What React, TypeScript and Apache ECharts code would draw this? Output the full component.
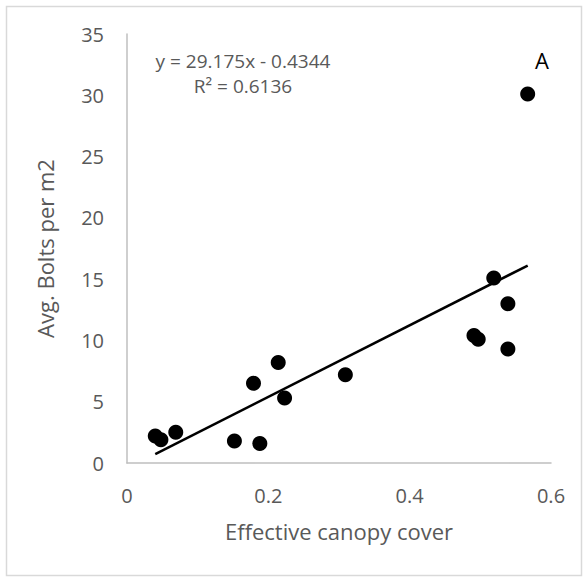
import React, { useEffect, useRef } from "react";
import * as echarts from "echarts";

const canopyCover = [0.040, 0.048, 0.069, 0.152, 0.188, 0.179, 0.214, 0.223, 0.309, 0.519, 0.539, 0.491, 0.497, 0.539, 0.567];
const boltsPerM2 = [2.2, 1.9, 2.5, 1.8, 1.6, 6.5, 8.2, 5.3, 7.2, 15.1, 13.0, 10.4, 10.1, 9.3, 30.1];
const slope = 29.175;
const intercept = -0.4344;
const rSquared = "0.6136";
const xTicks = [0, 0.2, 0.4, 0.6];
const yTicks = [0, 5, 10, 15, 20, 25, 30, 35];

const FONT = "'Open Sans', 'Noto Sans', sans-serif";

export default function App() {
  const ref = useRef<HTMLDivElement>(null);
  useEffect(() => {
    if (!ref.current) return;
    const chart = echarts.init(ref.current, null, { renderer: "svg" });
    const pts = canopyCover.map((x, i) => [x, boltsPerM2[i]]);
    const xMin = Math.min(...canopyCover);
    const xMax = Math.max(...canopyCover);
    const trend = [
      [xMin, slope * xMin + intercept],
      [xMax, slope * xMax + intercept],
    ];
    chart.setOption({
      animation: false,
      backgroundColor: "#ffffff",
      grid: { left: 127, right: 37, top: 34, bottom: 119 },
      xAxis: {
        type: "value",
        min: xTicks[0],
        max: xTicks[xTicks.length - 1],
        interval: 0.2,
        name: "Effective canopy cover",
        nameLocation: "middle",
        nameGap: 57,
        nameTextStyle: { fontFamily: FONT, fontSize: 22, color: "#595959" },
        axisLine: { show: true, lineStyle: { color: "#bfbfbf", width: 1.5 } },
        axisTick: { show: false },
        splitLine: { show: false },
        axisLabel: {
          fontFamily: FONT,
          fontSize: 20,
          color: "#595959",
          margin: 22,
          formatter: (v: number) => String(Math.round(v * 10) / 10),
        },
      },
      yAxis: {
        type: "value",
        min: yTicks[0],
        max: yTicks[yTicks.length - 1],
        interval: 5,
        name: "Avg. Bolts per m2",
        nameLocation: "middle",
        nameGap: 71,
        nameTextStyle: { fontFamily: FONT, fontSize: 22, color: "#595959" },
        axisLine: { show: true, lineStyle: { color: "#bfbfbf", width: 1.5 } },
        axisTick: { show: false },
        splitLine: { show: false },
        axisLabel: { fontFamily: FONT, fontSize: 20, color: "#595959", margin: 23 },
      },
      graphic: [
        {
          type: "rect",
          shape: { x: 6.5, y: 6.5, width: 575, height: 569 },
          style: { fill: "none", stroke: "#d9d9d9", lineWidth: 1.5 },
          silent: true,
        },
        {
          type: "text",
          x: 243,
          y: 61,
          style: {
            text: "y = " + slope + "x - " + Math.abs(intercept),
            fontFamily: FONT,
            fontSize: 19,
            lineHeight: 21,
            fill: "#595959",
            align: "center",
            verticalAlign: "middle",
          },
        },
        {
          type: "text",
          x: 243,
          y: 86,
          style: {
            text: "R² = " + rSquared,
            fontFamily: FONT,
            fontSize: 19,
            lineHeight: 21,
            fill: "#595959",
            align: "center",
            verticalAlign: "middle",
          },
        },
        {
          type: "text",
          x: 542,
          y: 60,
          style: {
            text: "A",
            fontFamily: FONT,
            fontSize: 22,
            fill: "#000000",
            align: "center",
            verticalAlign: "middle",
          },
        },
      ],
      series: [
        {
          type: "line",
          data: trend,
          symbol: "none",
          lineStyle: { color: "#000000", width: 2.5 },
          z: 2,
        },
        {
          type: "scatter",
          data: pts,
          symbol: "circle",
          symbolSize: 15,
          itemStyle: { color: "#000000", opacity: 1 },
          z: 3,
        },
      ],
    });
    return () => chart.dispose();
  }, []);
  return (
    <div
      ref={ref}
      style={{ position: "fixed", left: 0, top: 0, width: 588, height: 582 }}
    />
  );
}
